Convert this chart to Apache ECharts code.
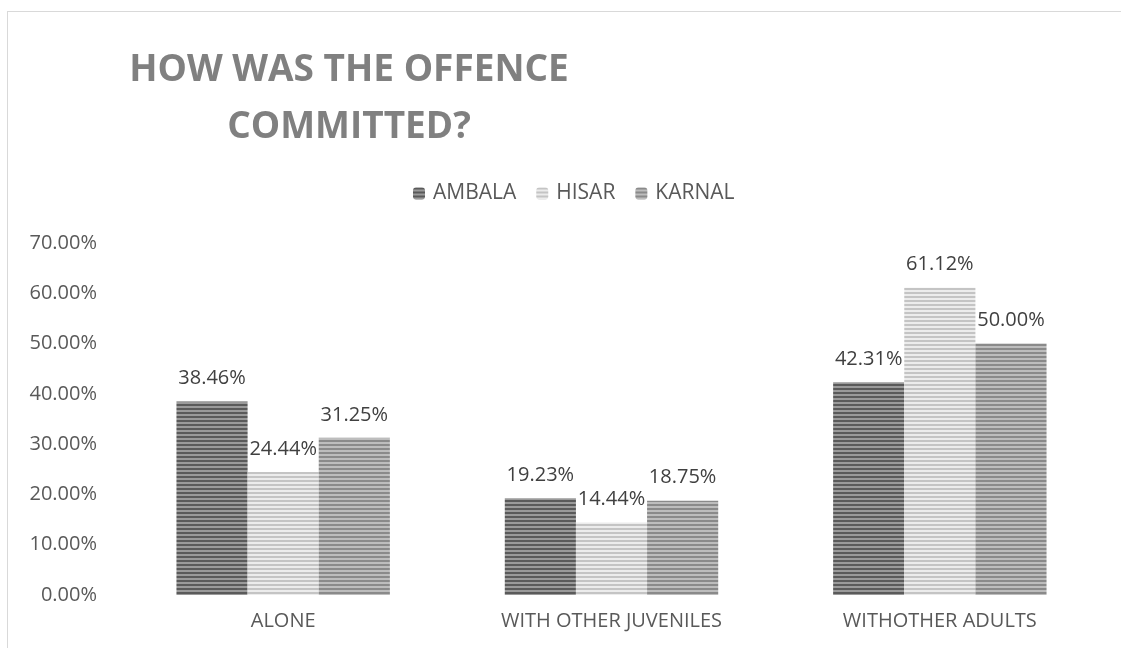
<!DOCTYPE html>
<html>
<head>
<meta charset="utf-8">
<script src="https://cdn.jsdelivr.net/npm/echarts@6/dist/echarts.min.js"></script>
<style>
html,body{margin:0;padding:0;background:#fff;}
#frame{position:absolute;left:7px;top:11px;width:1120px;height:640px;border:1px solid #d9d9d9;box-sizing:border-box;}
#chart{position:absolute;left:0;top:0;width:1121px;height:648px;}
</style>
</head>
<body>
<div id="frame"></div>
<div id="chart"></div>
<script>
const categories = ['ALONE', 'WITH OTHER JUVENILES', 'WITHOTHER ADULTS'];
const seriesNames = ['AMBALA', 'HISAR', 'KARNAL'];
const ambala = [38.46, 19.23, 42.31];
const hisar = [24.44, 14.44, 61.12];
const karnal = [31.25, 18.75, 50.00];
const titleLines = ['HOW WAS THE OFFENCE', 'COMMITTED?'];

function stripe(c1, c2) {
  const cv = document.createElement('canvas');
  cv.width = 8; cv.height = 4;
  const ctx = cv.getContext('2d');
  ctx.fillStyle = c1; ctx.fillRect(0, 0, 8, 2);
  ctx.fillStyle = c2; ctx.fillRect(0, 2, 8, 2);
  return { image: cv, repeat: 'repeat' };
}
const patterns = [stripe('#5a5a5a', '#9a9a9a'), stripe('#c4c4c4', '#ececec'), stripe('#8a8a8a', '#bdbdbd')];
const dataSets = [ambala, hisar, karnal];
const font = '"Open Sans", sans-serif';

const chart = echarts.init(document.getElementById('chart'));
chart.setOption({
  animation: false,
  title: {
    text: titleLines.join('\n'),
    left: 344, top: 37, textAlign: 'center',
    textStyle: { fontFamily: font, fontSize: 37, fontWeight: 'bold', color: '#808080', lineHeight: 57 }
  },
  legend: {
    data: seriesNames, left: 408, top: 178,
    itemWidth: 12, itemHeight: 12, itemGap: 20,
    textStyle: { fontFamily: font, fontSize: 21, color: '#595959', padding: [0, 0, 0, 3] }
  },
  grid: { left: 119, right: 17, top: 243, bottom: 53 },
  xAxis: {
    type: 'category', data: categories,
    axisLine: { show: false }, axisTick: { show: false },
    axisLabel: { fontFamily: font, fontSize: 20, color: '#595959', margin: 16 }
  },
  yAxis: {
    type: 'value', min: 0, max: 70, interval: 10,
    splitLine: { show: false }, axisLine: { show: false }, axisTick: { show: false },
    axisLabel: { fontFamily: font, fontSize: 20, color: '#595959', margin: 22,
      formatter: v => v.toFixed(2) + '%' }
  },
  series: seriesNames.map((n, i) => ({
    name: n, type: 'bar', data: dataSets[i],
    barGap: '0%', barCategoryGap: '35%',
    itemStyle: { color: patterns[i] },
    label: { show: true, position: 'top', distance: 13, fontFamily: font, fontSize: 20, color: '#404040',
      formatter: p => p.value.toFixed(2) + '%' }
  }))
});
</script>
</body>
</html>
